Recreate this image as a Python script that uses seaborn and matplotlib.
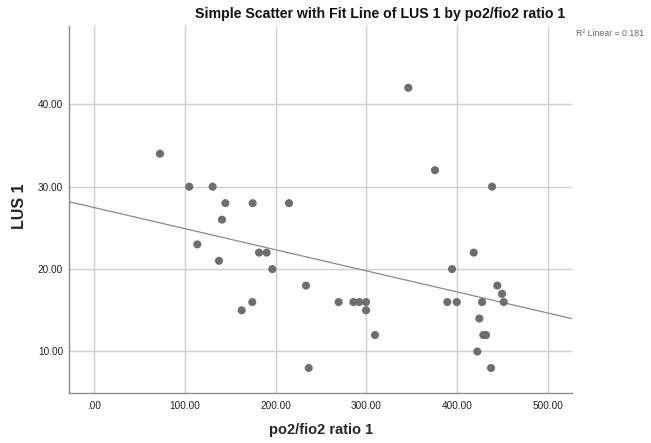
import numpy as np
import pandas as pd
import matplotlib
matplotlib.use("Agg")
import matplotlib.pyplot as plt
import seaborn as sns

# Data
po2_fio2 = [72.4, 104.7, 130.5, 144.5, 174.6, 214.7, 140.8, 113.6, 137.5, 181.6,
            190.0, 196.3, 233.4, 162.5, 174.2, 269.4, 285.6, 292.2, 299.6, 299.6,
            309.5, 236.4, 346.2, 375.6, 438.5, 394.4, 418.3, 389.2, 399.6, 444.3,
            449.5, 451.4, 427.5, 424.5, 428.9, 431.9, 422.3, 437.4]
lus = [34, 30, 30, 28, 28, 28, 26, 23, 21, 22,
       22, 20, 18, 15, 16, 16, 16, 16, 16, 15,
       12, 8, 42, 32, 30, 20, 22, 16, 16, 18,
       17, 16, 16, 14, 12, 12, 10, 8]
x_ticks = [0, 100, 200, 300, 400, 500]
x_tick_labels = [".00", "100.00", "200.00", "300.00", "400.00", "500.00"]
y_ticks = [10, 20, 30, 40]
y_tick_labels = ["10.00", "20.00", "30.00", "40.00"]
title = "Simple Scatter with Fit Line of LUS 1 by po2/fio2 ratio 1"
r2_label = "R\u00b2 Linear = 0.181"

df = pd.DataFrame({"po2/fio2 ratio 1": po2_fio2, "LUS 1": lus})

sns.set_style("white")
plt.rcParams["font.family"] = ["Liberation Sans", "DejaVu Sans"]

fig = plt.figure(figsize=(6.51, 4.43), dpi=100)
ax = fig.add_axes([68.7 / 651, 1 - 392.7 / 443, (572.3 - 68.7) / 651, (392.7 - 26) / 443])
ax.set_xlim(-28.2, 527)
ax.set_ylim(5.0, 49.5)

ax.set_xticks(x_ticks)
ax.set_xticklabels(x_tick_labels)
ax.set_yticks(y_ticks)
ax.set_yticklabels(y_tick_labels)
ax.grid(True, color="#d0d0d0", linewidth=1.0)
ax.set_axisbelow(True)

sns.regplot(data=df, x="po2/fio2 ratio 1", y="LUS 1", ax=ax, ci=None, truncate=False,
            scatter_kws={"s": 34, "color": "#6e6e6e", "edgecolor": "none", "alpha": 1, "zorder": 3},
            line_kws={"color": "#8a8a8a", "linewidth": 0.9, "zorder": 2})

ax.set_xlim(-28.2, 527)
ax.set_ylim(5.0, 49.5)

for s in ["top", "right"]:
    ax.spines[s].set_visible(False)
for s in ["left", "bottom"]:
    ax.spines[s].set_color("#8c8c8c")
    ax.spines[s].set_linewidth(1.0)

ax.tick_params(axis="both", length=0, labelsize=7.2, labelcolor="#222222")
ax.tick_params(axis="x", pad=6)
ax.tick_params(axis="y", pad=4)

ax.set_xlabel("po2/fio2 ratio 1", fontsize=10.5, fontweight="bold", labelpad=10)
ax.set_ylabel("LUS 1", fontsize=11.5, fontweight="bold", labelpad=10)
ax.xaxis.set_label_coords((321 - 68.7) / (572.3 - 68.7), -(430 - 392.7) / (392.7 - 26))
ax.xaxis.label.set_va("center")
ax.yaxis.set_label_coords(-(68.7 - 20) / (572.3 - 68.7), (392.7 - 206) / (392.7 - 26))
ax.yaxis.label.set_va("center")

fig.text(380.5 / 651, 1 - 14 / 443, title, ha="center", va="center",
         fontsize=10.2, fontweight="bold", color="#111111")
fig.text(576 / 651, 1 - 34 / 443, r2_label, ha="left", va="center",
         fontsize=6.3, color="#666666")

fig.savefig("out.png", dpi=100)
